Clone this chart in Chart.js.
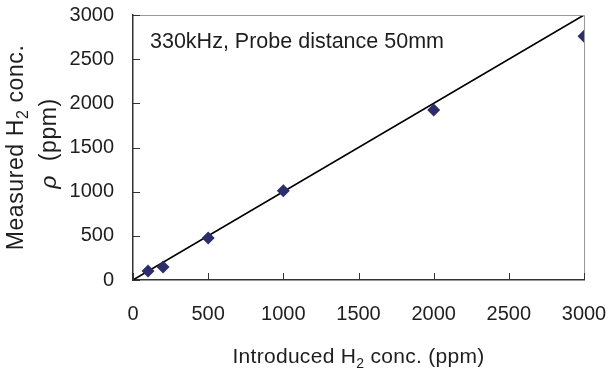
<!DOCTYPE html>
<html>
<head>
<meta charset="utf-8">
<script src="https://cdn.jsdelivr.net/npm/chart.js@4/dist/chart.umd.min.js"></script>
<style>
  html, body { margin: 0; padding: 0; background: #fff; }
  #wrap { width: 609px; height: 369px; }
</style>
</head>
<body>
<div id="wrap"><canvas id="c" width="609" height="369"></canvas></div>
<script>
// introduced vs measured H2 concentration (ppm)
const introduced = [100, 200, 500, 1000, 2000, 3000];
const measured   = [102, 147, 475, 1010, 1925, 2760];
const idealLine  = [0, 3000];        // y = x reference line
const tickValues = [0, 500, 1000, 1500, 2000, 2500, 3000];
const noteText = "330kHz, Probe distance 50mm";
const xTitle = ["Introduced H", "2", " conc. (ppm)"];
const yTitle1 = ["Measured H", "2", " conc."];
const yTitle2 = "(ppm)";

const FONT = "'Liberation Sans', Arial, sans-serif";
const TEXT = "#1e1e1e";

// text with a subscript in the middle, centred on (cx, baseline)
function drawSub(ctx, parts, cx, base, size, spacing){
  ctx.letterSpacing = spacing + "px";
  const big = size + "px " + FONT, small = Math.round(size * 0.68) + "px " + FONT;
  ctx.font = big; const w0 = ctx.measureText(parts[0]).width, w2 = ctx.measureText(parts[2]).width;
  ctx.font = small; const w1 = ctx.measureText(parts[1]).width;
  let x = cx - (w0 + w1 + w2) / 2;
  ctx.textAlign = "left";
  ctx.textBaseline = "alphabetic";
  ctx.font = big; ctx.fillText(parts[0], x, base); x += w0;
  ctx.font = small; ctx.fillText(parts[1], x, base + size * 0.22); x += w1;
  ctx.font = big; ctx.fillText(parts[2], x, base);
  ctx.letterSpacing = "0px";
}

const frameAndText = {
  id: "frameAndText",
  afterDatasetsDraw(chart){
    const {ctx, chartArea: a, scales: {x, y}} = chart;
    ctx.save();
    // light frame on top and right
    ctx.strokeStyle = "#9a9a9a";
    ctx.lineWidth = 1;
    ctx.beginPath();
    ctx.moveTo(a.left, a.top + 0.5);
    ctx.lineTo(a.right + 0.5, a.top + 0.5);
    ctx.lineTo(a.right + 0.5, a.bottom);
    ctx.stroke();

    // inside tick marks
    ctx.strokeStyle = "#333";
    ctx.beginPath();
    tickValues.forEach(v => {
      const px = Math.round(x.getPixelForValue(v)) + 0.5;
      ctx.moveTo(px, a.bottom);
      ctx.lineTo(px, a.bottom - 7);
      const py = Math.round(y.getPixelForValue(v)) + 0.5;
      ctx.moveTo(a.left, py);
      ctx.lineTo(a.left + 7, py);
    });
    ctx.stroke();

    ctx.fillStyle = TEXT;
    // note in the plot
    ctx.font = "21.5px " + FONT;
    ctx.textBaseline = "alphabetic";
    ctx.textAlign = "left";
    ctx.fillText(noteText, a.left + 17, a.top + 33);

    // x axis title
    drawSub(ctx, xTitle, (a.left + a.right) / 2, 363, 21, 0.3);

    // y axis title, two lines
    ctx.translate(0, (a.top + a.bottom) / 2);
    ctx.rotate(-Math.PI / 2);
    drawSub(ctx, yTitle1, 0, 23, 23, 0.6);
    ctx.letterSpacing = "0.6px";
    ctx.font = "23px " + FONT;
    const wr = ctx.measureText("\u03c1  ").width, wp = ctx.measureText(yTitle2).width;
    let sx = 4 - (wr + wp) / 2;
    ctx.font = "italic 23px " + FONT;
    ctx.fillText("\u03c1", sx, 56);
    ctx.font = "23px " + FONT;
    ctx.fillText(yTitle2, sx + wr, 56);
    ctx.restore();
  }
};

function fixedScale(size){
  return s => {
    if (s.isHorizontal()) s.height = size; else s.width = size;
    s.paddingTop = s.paddingBottom = s.paddingLeft = s.paddingRight = 0;
  };
}

new Chart(document.getElementById("c"), {
  type: "scatter",
  data: {
    datasets: [
      {
        label: "Measured",
        data: introduced.map((v, i) => ({x: v, y: measured[i]})),
        pointStyle: "rectRot",
        pointRadius: 6.5,
        pointHoverRadius: 6.5,
        backgroundColor: "#2c2e6c",
        borderColor: "#2c2e6c",
        borderWidth: 0,
        order: 1
      },
      {
        label: "Ideal",
        type: "line",
        data: idealLine.map(v => ({x: v, y: v})),
        borderColor: "#000",
        borderWidth: 1.6,
        pointRadius: 0,
        fill: false,
        order: 2
      }
    ]
  },
  options: {
    responsive: false,
    animation: false,
    devicePixelRatio: 1,
    layout: { padding: { top: 15, right: 25, left: 0, bottom: 0 } },
    plugins: { legend: { display: false }, tooltip: { enabled: false } },
    scales: {
      x: {
        type: "linear",
        min: 0, max: 3000,
        afterBuildTicks: s => { s.ticks = tickValues.map(v => ({value: v})); },
        afterFit: fixedScale(89),
        grid: { drawOnChartArea: false, drawTicks: false },
        border: { display: true, color: "#333", width: 1.5 },
        ticks: { padding: 22, color: TEXT, font: { family: FONT, size: 20 }, maxRotation: 0,
                 callback: v => String(v) }
      },
      y: {
        type: "linear",
        min: 0, max: 3000,
        afterBuildTicks: s => { s.ticks = tickValues.map(v => ({value: v})); },
        afterFit: fixedScale(133),
        grid: { drawOnChartArea: false, drawTicks: false },
        border: { display: true, color: "#333", width: 1.5 },
        ticks: { padding: 19, color: TEXT, font: { family: FONT, size: 20 },
                 callback: v => String(v) }
      }
    }
  },
  plugins: [frameAndText]
});
</script>
</body>
</html>
